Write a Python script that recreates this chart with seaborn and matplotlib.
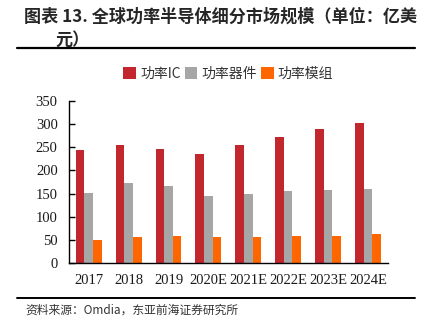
import matplotlib
matplotlib.use("Agg")
import matplotlib.pyplot as plt
import seaborn as sns
import pandas as pd

years = ["2017", "2018", "2019", "2020E", "2021E", "2022E", "2023E", "2024E"]
series_names = ["功率IC", "功率器件", "功率模组"]
power_ic = [244, 255, 246, 235, 255, 272, 290, 302]
power_device = [151, 173, 166, 145, 150, 155, 157, 160]
power_module = [50, 56, 58, 56, 56, 58, 58, 62]
yticks = [0, 50, 100, 150, 200, 250, 300, 350]

df = pd.DataFrame({
    "year": years * 3,
    "series": [series_names[0]] * 8 + [series_names[1]] * 8 + [series_names[2]] * 8,
    "value": power_ic + power_device + power_module,
})

sns.set_theme(style="white")
cjk = ["Noto Sans CJK SC", "DejaVu Sans"]
serif = ["Liberation Serif", "Noto Sans CJK SC"]
plt.rcParams["font.family"] = cjk

fig = plt.figure(figsize=(4.3, 3.25), dpi=100)
ax = fig.add_axes([0.160, 0.191, 0.742, 0.498])

palette = ["#C1272D", "#A6A6A6", "#FF6600"]
sns.barplot(data=df, x="year", y="value", hue="series", palette=palette,
            width=0.65, ax=ax, saturation=1, gap=0, linewidth=0)

ax.set_ylim(0, 350)
ax.set_yticks(yticks)
ax.set_xlim(-0.5, len(years) - 0.5)
ax.set_xlabel("")
ax.set_ylabel("")
for s in ["top", "right"]:
    ax.spines[s].set_visible(False)
for s in ["left", "bottom"]:
    ax.spines[s].set_color("#000000")
    ax.spines[s].set_linewidth(1.0)
ax.tick_params(axis="y", direction="in", length=4, width=1, color="#000000",
               left=True, labelsize=10.5, pad=8)
ax.tick_params(axis="x", length=0, labelsize=10.5, pad=8)
for lab in ax.get_xticklabels() + ax.get_yticklabels():
    lab.set_fontfamily(serif)
    lab.set_color("#1a1a1a")

leg = ax.legend(loc="upper center", bbox_to_anchor=(0.5, 1.245), ncol=3, frameon=False,
                fontsize=10, handlelength=0.9, handleheight=0.9, handletextpad=0.3,
                columnspacing=0.3, borderaxespad=0)
for t in leg.get_texts():
    t.set_fontfamily(["Noto Sans CJK SC", "Liberation Serif"])
    t.set_color("#333333")

fig.text(0.055, 0.975, "图表 13. 全球功率半导体细分市场规模（单位：亿美", fontsize=12.3,
         fontweight="bold", va="top", ha="left", family=cjk)
fig.text(0.128, 0.905, "元）", fontsize=12.3, fontweight="bold", va="top", ha="left", family=cjk)

fig.add_artist(plt.Line2D([0.04, 0.965], [0.852, 0.852], color="#000000", linewidth=1.6))
fig.add_artist(plt.Line2D([0.04, 0.965], [0.083, 0.083], color="#000000", linewidth=1.4))
fig.text(0.06, 0.065, "资料来源：Omdia，东亚前海证券研究所", fontsize=8.5, va="top", ha="left",
         family=["Noto Sans CJK SC", "Liberation Serif"], color="#333333")

fig.savefig("out.png", dpi=100, facecolor="white")
